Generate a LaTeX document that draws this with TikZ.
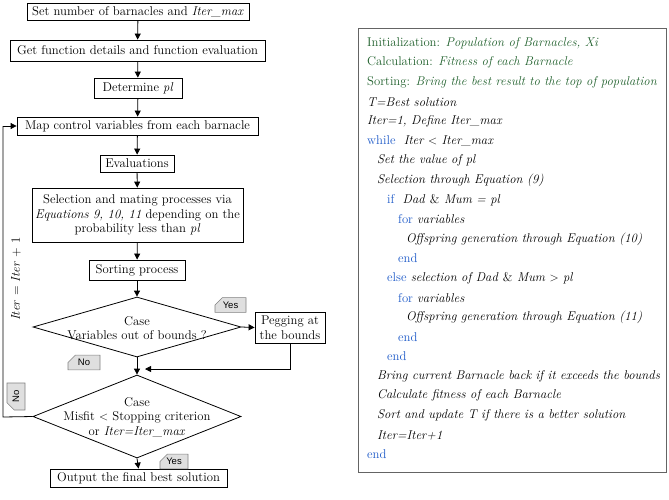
\documentclass[tikz,border=0pt]{standalone}
\usepackage{fontspec}
\newfontfamily\tagfont{Liberation Sans}
\usetikzlibrary{arrows.meta,shapes.geometric,shapes.misc}
\definecolor{cgreen}{RGB}{32,96,44}
\definecolor{cblue}{RGB}{30,90,200}
\definecolor{bordergray}{RGB}{100,100,100}
\begin{document}
\begin{tikzpicture}[x=1pt,y=-1pt,
  every node/.style={font=\fontsize{12.7}{14.5}\selectfont},
  fbox/.style={draw,line width=0.8pt,rectangle,inner sep=1pt,align=center},
  dia/.style={draw,line width=0.8pt,diamond,inner sep=0pt,align=center},
  tag/.style={draw=gray,fill=gray!25,line width=0.6pt,chamfered rectangle,
    chamfered rectangle corners=north west,chamfered rectangle xsep=4pt,chamfered rectangle ysep=4pt,
    inner sep=0pt,font=\tagfont\fontsize{9.5}{10}\selectfont},
  arr/.style={line width=0.8pt,-{Triangle[length=6pt,width=6pt]}},
  ln/.style={line width=0.8pt},
  code/.style={anchor=west,inner sep=0pt}]
\useasboundingbox (0,0) rectangle (669,499);
% flowchart
\node[fbox,minimum width=222pt,minimum height=17pt] (b1) at (138,11.5) {Set number of barnacles and \textit{Iter\_max}};
\node[fbox,minimum width=255pt,minimum height=21pt] (b2) at (137.5,50.5) {Get function details and function evaluation};
\node[fbox,minimum width=88pt,minimum height=20pt] (b3) at (138,88) {Determine \textit{pl}};
\node[fbox,minimum width=241pt,minimum height=18pt] (b4) at (137.5,126) {Map control variables from each barnacle};
\node[fbox,minimum width=74pt,minimum height=17pt] (b5) at (137,163.5) {Evaluations};
\node[fbox,minimum width=211pt,minimum height=54pt] (b6) at (137.5,215) {Selection and mating processes via\\\textit{Equations 9, 10, 11} depending on the\\probability less than \textit{pl}};
\node[fbox,minimum width=96pt,minimum height=20pt] (b7) at (137,270) {Sorting process};
\node[dia,minimum width=208pt,minimum height=60pt] (d1) at (137,327) {};
\node[align=center] (d1t) at (137,328) {Case\\Variables out of bounds ?};
\node[fbox,minimum width=70pt,minimum height=31pt] (peg) at (290,327.5) {Pegging at\\the bounds};
\node[dia,minimum width=208pt,minimum height=83pt] (d2) at (137,416.5) {};
\node[align=center] (d2t) at (137,417) {Case\\Misfit $<$ Stopping criterion\\or \textit{Iter=Iter\_max}};
\node[fbox,minimum width=177pt,minimum height=18pt] (out) at (138.5,478) {Output the final best solution};
\coordinate (m) at (137,369);
\coordinate (lb) at (3,417);
\coordinate (lt) at (3,126);
% connectors
\draw[arr] (b1) -- (b2);
\draw[arr] (b2) -- (b3);
\draw[arr] (b3) -- (b4);
\draw[arr] (b4) -- (b5);
\draw[arr] (b5) -- (b6);
\draw[arr] (b6) -- (b7);
\draw[arr] (b7) -- (d1);
\draw[arr] (d1.east) -- (peg.west);
\draw[arr] (d1.south) -- (d2.north);
\draw[arr,shorten >=8pt] (peg.south) |- (m);
\draw[arr] (d2.south) -- (out.north);
\draw[ln] (d2.west) -- (lb) -- (lt);
\draw[arr] (lt) -- (b4.west);
\node[rotate=90] (itl) at (16,279) {\textit{Iter} = \textit{Iter} + 1};
% tags
\node[tag,minimum width=31pt,minimum height=14pt] (y1) at (230.5,305) {Yes};
\node[tag,minimum width=32pt,minimum height=12pt] (n1) at (84,362.5) {No};
\node[tag,minimum width=27pt,minimum height=18pt,rotate=90] (n2) at (16,396.5) {No};
\node[tag,minimum width=28pt,minimum height=13pt] (y2) at (174,461.5) {Yes};
% right panel
\node[draw=bordergray,line width=0.9pt,minimum width=308pt,minimum height=444pt,inner sep=0pt] (panel) at (512,250) {};
\def\La{367}\def\Lb{377}\def\Lc{387}\def\Ld{398}\def\Le{406}
\node[code] (c0) at (\La,43) {\color{cgreen}Initialization: \textit{Population of Barnacles, Xi}};
\node[code] (c1) at (\La,62.6) {\color{cgreen}Calculation: \textit{Fitness of each Barnacle}};
\node[code] (c2) at (\La,82.2) {\color{cgreen}Sorting: \textit{Bring the best result to the top of population}};
\node[code] (c3) at (\La,101.8) {\textit{T=Best solution}};
\node[code] (c4) at (\La,121.4) {\textit{Iter=1, Define Iter\_max}};
\node[code] (c5) at (\La,141) {\textcolor{cblue}{while}\ \ \textit{Iter $<$ Iter\_max}};
\node[code] (c6) at (\Lb,160.6) {\textit{Set the value of pl}};
\node[code] (c7) at (\Lb,180.2) {\textit{Selection through Equation (9)}};
\node[code] (c8) at (\Lc,199.8) {\textcolor{cblue}{if}\ \ \textit{Dad \textup{\&} Mum = pl}};
\node[code] (c9) at (\Ld,219.4) {\textcolor{cblue}{for} \textit{variables}};
\node[code] (c10) at (\Le,239) {\textit{Offspring generation through Equation (10)}};
\node[code] (c11) at (\Ld,258.6) {\textcolor{cblue}{end}};
\node[code] (c12) at (\Lc,278.2) {\textcolor{cblue}{else} \textit{selection of Dad \textup{\&} Mum $>$ pl}};
\node[code] (c13) at (\Ld,297.8) {\textcolor{cblue}{for} \textit{variables}};
\node[code] (c14) at (\Le,317.4) {\textit{Offspring generation through Equation (11)}};
\node[code] (c15) at (\Ld,337) {\textcolor{cblue}{end}};
\node[code] (c16) at (\Lc,356.6) {\textcolor{cblue}{end}};
\node[code] (c17) at (\Lb,376.2) {\textit{Bring current Barnacle back if it exceeds the bounds}};
\node[code] (c18) at (\Lb,395.8) {\textit{Calculate fitness of each Barnacle}};
\node[code] (c19) at (\Lb,415.4) {\textit{Sort and update T if there is a better solution}};
\node[code] (c20) at (\Lb,435) {\textit{Iter=Iter+1}};
\node[code] (c21) at (\La,454.6) {\textcolor{cblue}{end}};
\end{tikzpicture}
\end{document}
